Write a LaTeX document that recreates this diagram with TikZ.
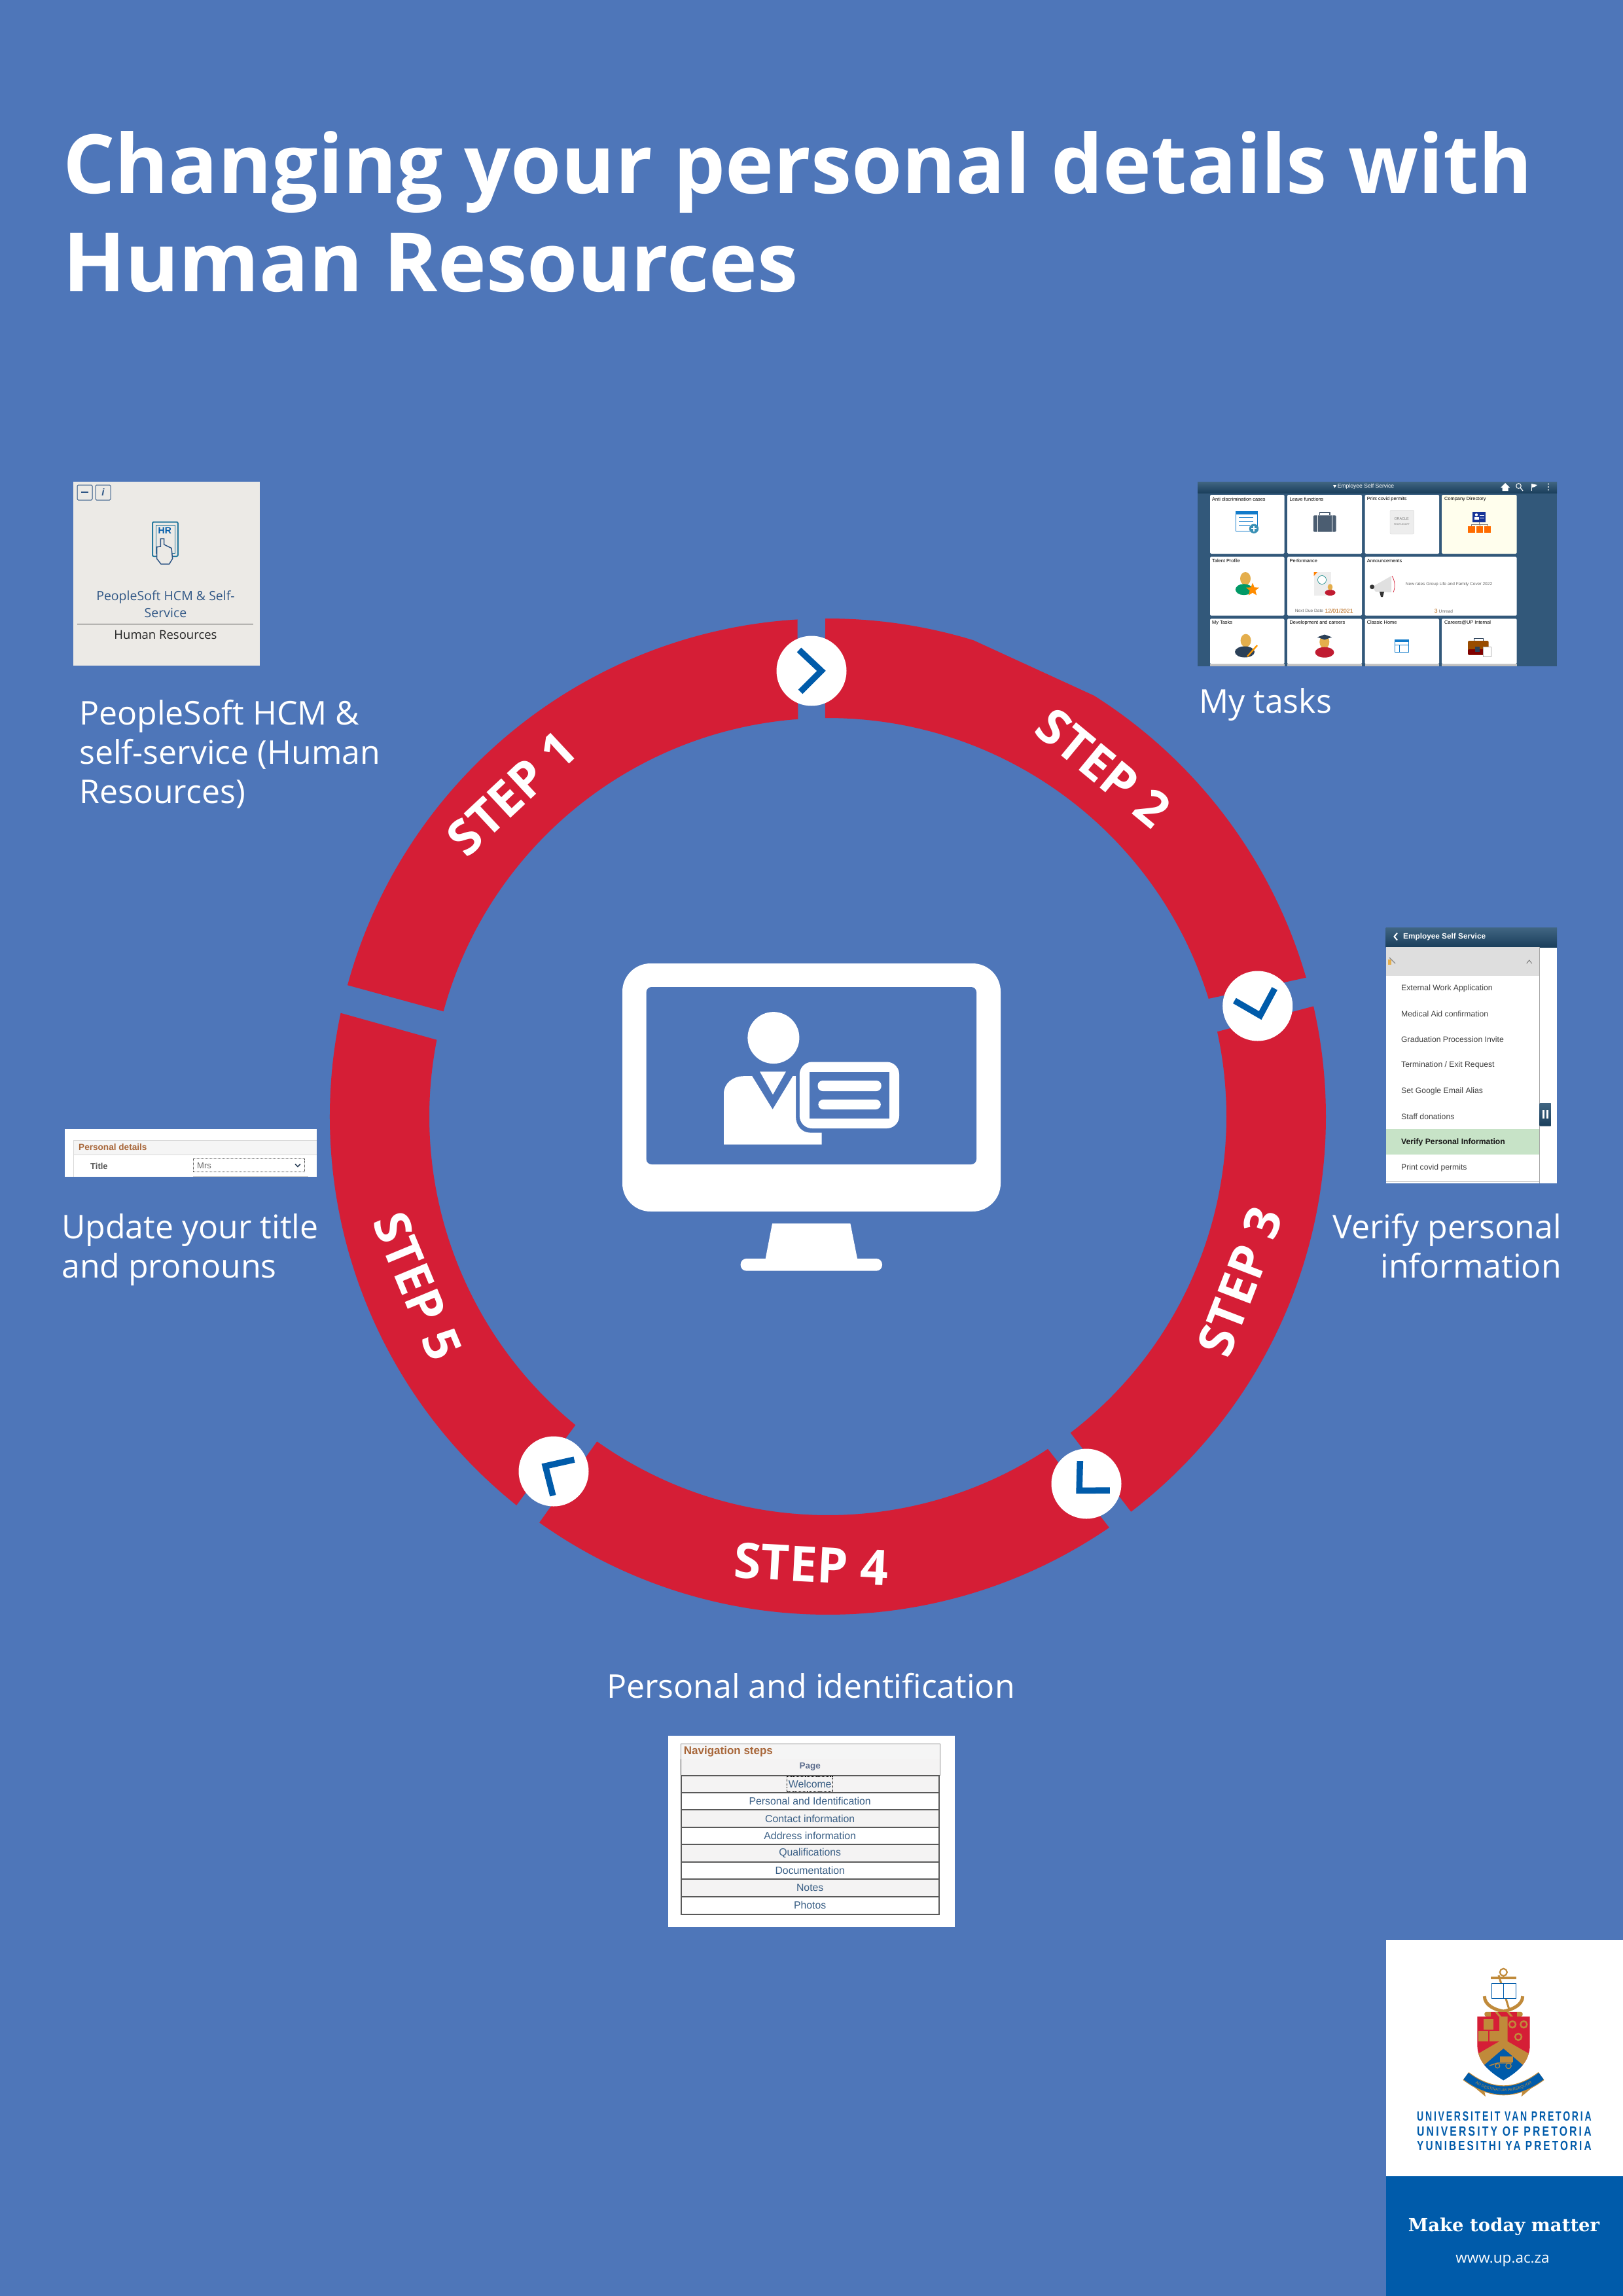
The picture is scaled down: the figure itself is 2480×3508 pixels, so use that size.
\documentclass[tikz,border=0pt]{standalone}
\usepackage{fontspec}
\usepackage{graphicx}
\usepackage{tikz}
\usetikzlibrary{shapes.geometric,decorations.text}
\setmainfont{Open Sans}
\newfontfamily\screenfont{Liberation Sans}
\newfontfamily\crestfont{Liberation Sans}[LetterSpace=20]
\newfontfamily\mottofont{DejaVu Serif}
\newcommand{\setpx}[1]{\fontsize{#1}{#1}\selectfont}
\definecolor{pagebg}{HTML}{4E76B9}
\definecolor{ringred}{HTML}{D51E36}
\definecolor{upblue}{HTML}{005BAA}
\definecolor{upgold}{HTML}{C08A3A}
\definecolor{hrgrey}{HTML}{ECEAE6}
\definecolor{hrblue}{HTML}{2F5685}
\definecolor{barblue}{HTML}{1F4A6C}
\definecolor{deskblue}{HTML}{32587A}
\definecolor{navbrown}{HTML}{A8673A}
\definecolor{navtext}{HTML}{3A5F85}
\definecolor{navgrey}{HTML}{F4F3F3}
\definecolor{navpagec}{HTML}{5E6E8E}
\definecolor{headgold}{HTML}{E4AE4C}
\definecolor{darkslate}{HTML}{2B4058}
\tikzset{
  ringseg/.style={fill=ringred},
  stepdot/.style={circle,fill=white,minimum size=107pt},
  chevron/.style={draw=upblue,line width=9.5pt,miter limit=10},
  steptext/.style={text=white,font=\bfseries\setpx{75}},
  bigtext/.style={text=white,font=\fontsize{50}{60}\selectfont,align=left},
  tile/.style={fill=white,rounded corners=1.5pt},
  tiletitle/.style={anchor=west,text=black,font=\screenfont\setpx{7.4}},
  tilesmall/.style={text=black!60,font=\screenfont\setpx{6.6}},
  menuitem/.style={anchor=west,text=black!75,font=\screenfont\setpx{12.2}},
  navrow/.style={draw=black!65,line width=2pt},
  navitem/.style={text=navtext,font=\screenfont\setpx{15.8}},
  crestline/.style={text=upblue,font=\crestfont\bfseries\setpx{20}},
  whiteicon/.style={fill=white},
  topbar/.style={top color=barblue!85!white,bottom color=barblue!85!black}
}
\begin{document}
\begin{tikzpicture}[x=1pt,y=1pt]
\tikzstyle{every node}+=[inner sep=0pt]
\useasboundingbox (0,0) rectangle (2480,-3508);
\fill [pagebg] (0,0) rectangle (2480,-3508);

\node [anchor=north west,text=white,align=left,font=\bfseries\fontsize{125}{150}\selectfont] (title) at (96,-200) {Changing your personal details with\\Human Resources};

\begin{scope}[shift={(1265,-1706)}]
\fill [ringseg] (93.5:761) arc (93.5:164.7:761) -- (164.7:609) arc (164.7:94.3:609) -- cycle;
\fill [ringseg] (90.3:761) arc (90.3:73:761) -- (57.7:761) arc (57.7:16.2:761) -- (17.2:609) arc (17.2:90.4:609) -- cycle;
\fill [ringseg] (12.8:761) arc (12.8:-52.5:761) -- (-52.5:609) arc (-52.5:12.3:609) -- cycle;
\fill [ringseg] (-55.6:761) arc (-55.6:-125.4:761) -- (-125.4:609) arc (-125.4:-56.5:609) -- cycle;
\fill [ringseg] (231.3:761) arc (231.3:168:761) -- (168.9:609) arc (168.9:230.7:609) -- cycle;
\end{scope}

\node [stepdot] (dot1) at (1240,-1025) {};
\node [stepdot] (dot2) at (1921.7,-1537) {};
\node [stepdot] (dot3) at (1660,-2267) {};
\node [stepdot] (dot4) at (846,-2248) {};
\draw [chevron,shift={(dot1.center)},rotate=0] (-19,32) -- (15,0) -- (-17,-32);
\draw [chevron,shift={(dot2.center)},rotate=-75] (-19,32) -- (15,0) -- (-17,-32);
\draw [chevron,shift={(dot3.center)},rotate=-136.5] (-19,32) -- (15,0) -- (-17,-32);
\draw [chevron,shift={(dot4.center)},rotate=147.6] (-19,32) -- (15,0) -- (-17,-32);

\node [steptext,rotate=43] (step1) at (782,-1212) {STEP 1};
\node [steptext,rotate=-39.5] (step2) at (1686,-1173) {STEP 2};
\node [steptext,rotate=69] (step3) at (1895,-1958) {STEP 3};
\node [steptext,rotate=-3] (step4) at (1240,-2390) {STEP 4};
\node [steptext,rotate=-67.5] (step5) at (638,-1965) {STEP 5};

\fill [whiteicon,rounded corners=43pt] (951,-1472) rectangle (1529,-1851);
\fill [pagebg,rounded corners=8pt] (987.6,-1508) rectangle (1492,-1779);
\fill [whiteicon] (1180,-1869.4) -- (1299.4,-1869.4) -- (1310,-1923) -- (1169.7,-1923) -- cycle;
\fill [whiteicon,rounded corners=9pt] (1131.6,-1923) rectangle (1348,-1941.7);
\fill [whiteicon] (1181.9,-1585.6) circle (39.5);
\fill [whiteicon] (1161,-1637.3) -- (1201,-1637.3) -- (1181,-1672.4) -- cycle;
\fill [whiteicon] (1106,-1748.5) -- (1106,-1671) .. controls (1106,-1655) and (1120,-1644.2) .. (1136.3,-1644.2) -- (1149.3,-1644.2) -- (1180.6,-1695) -- (1211.4,-1644.2) -- (1216,-1644.2) -- (1216,-1705.5) .. controls (1216,-1720) and (1225,-1730.6) .. (1238,-1730.6) -- (1255.6,-1730.6) -- (1255.6,-1748.5) -- cycle;
\fill [whiteicon,rounded corners=19pt] (1221.8,-1622.5) rectangle (1374,-1724);
\fill [pagebg] (1237,-1638) rectangle (1358.8,-1709);
\fill [whiteicon,rounded corners=7.5pt] (1249.5,-1651) rectangle (1346.7,-1667);
\fill [whiteicon,rounded corners=7.5pt] (1250.4,-1680) rectangle (1345.8,-1695);

\fill [hrgrey] (112,-736) rectangle (397,-1017);
\draw [hrblue,line width=1pt,rounded corners=1.5pt] (118,-741) rectangle (141,-764);
\draw [hrblue,line width=1pt,rounded corners=1.5pt] (146,-741) rectangle (169,-764);
\draw [hrblue,line width=1.6pt] (124,-752) -- (135,-752);
\node [text=hrblue,font=\screenfont\itshape\bfseries\setpx{15}] (hrinfo) at (157.5,-752.5) {i};
\draw [hrblue!80!cyan,line width=2pt,rounded corners=2pt,fill=hrgrey] (233,-797.5) rectangle (271.8,-850);
\draw [hrblue!80!cyan,line width=1pt] (238,-802) rectangle (267,-845);
\node [text=upblue,font=\screenfont\bfseries\setpx{14}] (hrtag) at (251.8,-811) {HR};
\draw [hrblue,line width=1.5pt,fill=hrgrey] (245.4,-823) -- (250.7,-823) -- (250.7,-832) -- (262,-837.5) -- (263.6,-853.6) -- (258.6,-861.8) -- (246,-861.8) -- (239.6,-853.6) -- (239.6,-835.7) -- (245.4,-835) -- cycle;
\node [text=hrblue,align=center,font=\fontsize{19.5}{26}\selectfont] (hrname) at (253,-923) {PeopleSoft HCM \& Self-\\Service};
\draw [black!70,line width=0.8pt] (118,-953) -- (387,-953);
\node [text=black!85,font=\setpx{18.5}] (hrsub) at (253,-970) {Human Resources};
\node [bigtext,anchor=north west] (hrlabel) at (121,-1069) {PeopleSoft HCM \&\\self-service (Human\\Resources)};

\fill [deskblue] (1830.4,-736) rectangle (2379,-1018);
\shade [topbar] (1830.4,-736) rectangle (2379,-753.3);
\fill [tile] (1849,-756) rectangle (1962.5,-846);
\fill [tile] (1967,-756) rectangle (2081,-846);
\fill [tile] (2085.5,-756) rectangle (2199,-846);
\fill [tile,fill=yellow!7] (2203,-756) rectangle (2317.6,-846);
\fill [tile] (1849,-850.7) rectangle (1962.5,-940.7);
\fill [tile] (1967,-850.7) rectangle (2081,-940.7);
\fill [tile] (2085.5,-850.7) rectangle (2317.6,-940.7);
\fill [black!25] (1849,-1014) rectangle (1962.5,-1018);
\fill [black!25] (1967,-1014) rectangle (2081,-1018);
\fill [black!25] (2085.5,-1014) rectangle (2199,-1018);
\fill [black!25] (2203,-1014) rectangle (2317.6,-1018);
\fill [tile] (1849,-945.3) rectangle (1962.5,-1014.3);
\fill [tile] (1967,-945.3) rectangle (2081,-1014.3);
\fill [tile] (2085.5,-945.3) rectangle (2199,-1014.3);
\fill [tile] (2203,-945.3) rectangle (2317.6,-1014.3);
\node [text=white,font=\screenfont\setpx{8.6}] (deskhead) at (2087,-743) {Employee Self Service};
\fill [white] (2037,-741) -- (2042,-741) -- (2039.5,-745.5) -- cycle;
\fill [white] (2293,-745) -- (2300,-738) -- (2307,-745) -- (2304.5,-745) -- (2304.5,-750) -- (2295.5,-750) -- (2295.5,-745) -- cycle;
\draw [white,line width=1pt] (2320.5,-742.5) circle (3.8);
\draw [white,line width=1.2pt] (2323,-745) -- (2327,-750);
\draw [white,line width=1pt] (2340,-739) -- (2340,-750);
\fill [white] (2340,-739) -- (2349,-741) -- (2345,-744) -- (2340,-745) -- cycle;
\fill [white] (2366,-739.5) circle (1.1);
\fill [white] (2366,-744) circle (1.1);
\fill [white] (2366,-748.5) circle (1.1);
\node [tiletitle] (t1) at (1852,-762.7) {Anti discrimination cases};
\node [tiletitle] (t2) at (1970.4,-762.7) {Leave functions};
\node [tiletitle] (t3) at (2088.6,-762.7) {Print covid permits};
\node [tiletitle] (t4) at (2207,-762.7) {Company Directory};
\node [tiletitle] (t5) at (1852,-856.7) {Talent Profile};
\node [tiletitle] (t6) at (1970.4,-856.7) {Performance};
\node [tiletitle] (t7) at (2088.6,-856.7) {Announcements};
\node [tiletitle] (t8) at (1852,-951.3) {My Tasks};
\node [tiletitle] (t9) at (1970.4,-951.3) {Development and careers};
\node [tiletitle] (t10) at (2088.6,-951.3) {Classic Home};
\node [tiletitle] (t11) at (2207,-951.3) {Careers@UP Internal};
\draw [cyan!60!blue,fill=white,line width=0.7pt] (1888,-781.3) rectangle (1921.8,-811);
\fill [cyan!60!blue] (1888,-781.3) rectangle (1921.8,-785.5);
\draw [cyan!60!blue,line width=0.9pt] (1893,-790) -- (1915,-790);
\draw [cyan!60!blue,line width=0.9pt] (1893,-796) -- (1915,-796);
\draw [cyan!60!blue,line width=0.9pt] (1893,-802) -- (1910,-802);
\fill [cyan!70!black] (1916,-807.7) circle (7.2);
\draw [white,line width=1.2pt] (1912,-807.7) -- (1920,-807.7);
\draw [white,line width=1.2pt] (1916,-803.7) -- (1916,-811.7);
\fill [darkslate!85,rounded corners=2pt] (2006.8,-787.3) rectangle (2041.6,-812.7);
\draw [darkslate!85,line width=1.4pt] (2016.5,-787.3) -- (2016.5,-783) -- (2032,-783) -- (2032,-787.3);
\draw [white,line width=0.9pt] (2013.5,-787.3) -- (2013.5,-812.7);
\draw [white,line width=0.9pt] (2035,-787.3) -- (2035,-812.7);
\draw [black!15,fill=black!7,rounded corners=2pt] (2124,-779.3) rectangle (2160.6,-816);
\node [text=black!55,font=\screenfont\setpx{5.4}] (t3a) at (2141.6,-793) {ORACLE};
\node [text=black!55,font=\screenfont\setpx{3.6}] (t3b) at (2142,-801.7) {PEOPLESOFT};
\fill [barblue!70!blue] (2250.4,-781.7) rectangle (2270,-797.7);
\fill [white] (2256,-786.5) circle (2.2);
\fill [white] (2252.5,-793.5) rectangle (2259.5,-790);
\draw [white,line width=0.5pt] (2261,-787) -- (2268,-787);
\draw [white,line width=0.5pt] (2261,-791) -- (2268,-791);
\draw [black!50,line width=0.4pt] (2260,-797.7) -- (2260,-801) (2248.4,-804) -- (2248.4,-801) -- (2273,-801) -- (2273,-804) (2261,-801) -- (2261,-804);
\fill [orange!85!red] (2242.5,-804) rectangle (2254.3,-814);
\fill [orange!85!red] (2255.5,-804) rectangle (2266,-814);
\fill [orange!85!red] (2267.7,-804) rectangle (2278.4,-814);
\fill [headgold] (1903,-884) ellipse (8 and 10);
\fill [teal!80!green] (1900.8,-900.7) ellipse (13 and 8.5);
\node [star,star points=5,star point ratio=2.3,fill=orange!90!yellow,minimum size=21pt] (t5star) at (1914,-901) {};
\fill [black!7] (2007.6,-874) rectangle (2034,-910);
\fill [orange] (2007.6,-874) -- (2013,-874) -- (2007.6,-880) -- cycle;
\draw [teal,fill=white,line width=0.6pt] (2020,-886) circle (6.5);
\fill [ringred!90!black] (2032.5,-905.5) ellipse (8 and 4.5);
\fill [headgold] (2032.5,-897) ellipse (3.8 and 4.8);
\node [tilesmall] (t6a) at (2000.5,-933.3) {Next Due Date};
\node [text=orange!70!black,font=\screenfont\setpx{8.6}] (t6b) at (2046,-933.3) {12/01/2021};
\fill [black!12] (2096.6,-896.7) -- (2126,-880) -- (2126,-905) -- (2102,-904) -- cycle;
\fill [black!80] (2096.6,-896.7) circle (3.5);
\fill [black!80] (2108,-904) -- (2115,-904) -- (2113,-912) -- (2110,-912) -- cycle;
\draw [ringred,line width=0.7pt] (2127,-880) .. controls (2132,-888) and (2132,-898) .. (2129,-905);
\node [tilesmall] (t7a) at (2214,-892.7) {New rates Group Life and Family Cover 2022};
\node [tilesmall] (t7b) at (2206,-933.3) {\textcolor{orange!70!black}{\setpx{8.6}3} Unread};
\fill [headgold] (1903.6,-978.7) ellipse (8 and 10);
\fill [darkslate] (1902,-996) ellipse (15 and 8.5);
\draw [orange!80!yellow,line width=2.4pt] (1906,-1003) -- (1921,-986);
\fill [headgold] (2023.8,-980.7) ellipse (7.5 and 10);
\fill [ringred!90!black] (2024,-996.7) ellipse (14.5 and 8);
\fill [darkslate] (2013,-973.5) -- (2024,-969.5) -- (2035,-973.5) -- (2024,-977.5) -- cycle;
\draw [cyan!60!blue,fill=white,line width=0.6pt] (2131,-977.3) rectangle (2152.7,-996);
\fill [cyan!60!blue] (2131,-977.3) rectangle (2152.7,-981);
\draw [cyan!60!blue,line width=0.5pt] (2131,-985) -- (2152.7,-985);
\draw [cyan!60!blue,line width=0.5pt] (2138,-985) -- (2138,-996);
\fill [orange!60!black,rounded corners=1.5pt] (2243,-979) rectangle (2274.5,-1000.7);
\fill [red!50!black,rounded corners=1.5pt] (2243,-992) rectangle (2274.5,-1000.7);
\draw [darkslate,line width=1pt] (2252,-979) -- (2252,-975) -- (2266,-975) -- (2266,-979);
\fill [darkslate] (2254,-988) rectangle (2261,-996);
\draw [black!30,fill=white,line width=0.4pt] (2265.8,-988.3) rectangle (2278.4,-1003.3);
\node [bigtext,anchor=north west] (desklabel) at (1832,-1051) {My tasks};

\fill [white] (2117.7,-1417) rectangle (2379,-1808);
\shade [topbar] (2117.7,-1417) rectangle (2379,-1447);
\fill [black!13] (2117.7,-1447) rectangle (2352,-1491);
\fill [green!50!black!22] (2117.7,-1725) rectangle (2352,-1764);
\draw [black!35,line width=0.8pt] (2352,-1447) -- (2352,-1808);
\draw [black!25,line width=1pt] (2117.7,-1805) -- (2352,-1805);
\draw [white,line width=2pt] (2135,-1425.5) -- (2130.5,-1431) -- (2135,-1436.5);
\node [anchor=west,text=white,font=\screenfont\bfseries\setpx{11.8}] (menuhead) at (2144,-1431) {Employee Self Service};
\fill [headgold] (2121,-1474) rectangle (2126,-1466);
\draw [black!45,line width=1.2pt] (2123,-1463) -- (2132,-1472);
\draw [black!55,line width=0.9pt] (2332.7,-1472) -- (2336.7,-1467) -- (2340.7,-1472);
\node [menuitem] (m1) at (2141,-1510) {External Work Application};
\node [menuitem] (m2) at (2141,-1549) {Medical Aid confirmation};
\node [menuitem] (m3) at (2141,-1588) {Graduation Procession Invite};
\node [menuitem] (m4) at (2141,-1627) {Termination / Exit Request};
\node [menuitem] (m5) at (2141,-1667) {Set Google Email Alias};
\node [menuitem] (m6) at (2141,-1706) {Staff donations};
\node [menuitem,font=\screenfont\bfseries\setpx{12.2},text=black!90] (m7) at (2141,-1745) {Verify Personal Information};
\node [menuitem] (m8) at (2141,-1784) {Print covid permits};
\shade [topbar,rounded corners=1.5pt] (2352,-1685) rectangle (2370.7,-1720.7);
\fill [white] (2357,-1696) rectangle (2360,-1709);
\fill [white] (2363,-1696) rectangle (2366,-1709);
\node [bigtext,anchor=north east,align=right] (menulabel) at (2386,-1854) {Verify personal\\information};

\fill [white] (99,-1725) rectangle (484,-1798);
\fill [black!4] (112.7,-1742.7) rectangle (484,-1764.3);
\draw [black!15,line width=0.8pt] (484,-1742.7) -- (112.7,-1742.7) -- (112.7,-1798);
\draw [black!15,line width=0.8pt] (112.7,-1764.3) -- (484,-1764.3);
\node [anchor=west,text=navbrown,font=\screenfont\bfseries\setpx{13.6}] (pdhead) at (120,-1753) {Personal details};
\node [anchor=west,text=black!65,font=\screenfont\bfseries\setpx{13}] (pdtitle) at (138,-1782) {Title};
\draw [black!75,densely dotted,line width=1pt,fill=white] (295,-1770.7) rectangle (465.7,-1790.7);
\node [anchor=west,text=black!60,font=\screenfont\setpx{13}] (pdvalue) at (301,-1780.7) {Mrs};
\draw [darkslate,line width=1.6pt] (451,-1778.5) -- (455,-1782.5) -- (459,-1778.5);
\draw [black!20,line width=0.8pt] (295,-1797) -- (471,-1797);
\node [bigtext,anchor=north west] (pdlabel) at (94,-1854) {Update your title\\and pronouns};

\node [bigtext,anchor=base] (navlabel) at (1239,-2594) {Personal and identification};
\fill [white] (1021,-2652) rectangle (1459,-2944);
\fill [black!4] (1040,-2664) rectangle (1436,-2688);
\fill [navgrey] (1040,-2688) rectangle (1436,-2712.7);
\draw [black!45,line width=0.9pt] (1040,-2688) -- (1040,-2664) -- (1436,-2664) -- (1436,-2712.7);
\draw [black!80,line width=0.9pt] (1040,-2688) -- (1040,-2712.7);
\draw [navrow,fill=navgrey] (1040.7,-2712.7) rectangle (1435.3,-2739);
\draw [navrow,fill=white] (1040.7,-2739) rectangle (1435.3,-2765.3);
\draw [navrow,fill=navgrey] (1040.7,-2765.3) rectangle (1435.3,-2792);
\draw [navrow,fill=white] (1040.7,-2792) rectangle (1435.3,-2818.3);
\draw [navrow,fill=navgrey] (1040.7,-2818.3) rectangle (1435.3,-2844.7);
\draw [navrow,fill=white] (1040.7,-2844.7) rectangle (1435.3,-2871);
\draw [navrow,fill=navgrey] (1040.7,-2871) rectangle (1435.3,-2897.7);
\draw [navrow,fill=white] (1040.7,-2897.7) rectangle (1435.3,-2924.7);
\node [anchor=west,text=navbrown,font=\screenfont\bfseries\setpx{17}] (navhead) at (1044.7,-2676) {Navigation steps};
\node [text=navpagec,font=\screenfont\bfseries\setpx{13.5}] (navpage) at (1237.7,-2699.5) {Page};
\node [navitem] (n1) at (1237.7,-2725.5) {Welcome};
\draw [black,densely dotted,line width=0.9pt] (1202.7,-2714.3) rectangle (1272,-2737.7);
\node [navitem] (n2) at (1237.7,-2752) {Personal and Identification};
\node [navitem] (n3) at (1237.7,-2778.5) {Contact information};
\node [navitem] (n4) at (1237.7,-2805) {Address information};
\node [navitem] (n5) at (1237.7,-2831.5) {Qualifications};
\node [navitem] (n6) at (1237.7,-2858) {Documentation};
\node [navitem] (n7) at (1237.7,-2884.5) {Notes};
\node [navitem] (n8) at (1237.7,-2911) {Photos};

\fill [white] (2117.7,-2963.5) rectangle (2480,-3325.4);
\fill [upblue] (2117.7,-3325.4) rectangle (2480,-3508);
\draw [upgold,line width=2.2pt] (2297.3,-3013.3) circle (5.5);
\draw [upgold,line width=3.5pt] (2278.3,-3022) -- (2316.7,-3022);
\draw [upgold,line width=5pt] (2268.3,-3050) .. controls (2268.3,-3064) and (2285,-3071) .. (2297.3,-3073) .. controls (2309,-3071) and (2326.7,-3064) .. (2326.7,-3050);
\draw [upgold,line width=3pt] (2290,-3018) -- (2306,-3070);
\draw [upblue,line width=0.6pt,fill=white] (2279,-3030) rectangle (2297.3,-3053);
\draw [upblue,line width=0.6pt,fill=white] (2297.3,-3030) rectangle (2316,-3053);
\fill [upgold,rounded corners=3pt] (2268.3,-3073.8) rectangle (2326.7,-3081);
\fill [ringred] (2278,-3073.8) rectangle (2318,-3081);
\fill [upgold] (2284,-3073.8) -- (2288,-3073.8) -- (2294,-3081) -- (2290,-3081) -- cycle;
\fill [upgold] (2302,-3073.8) -- (2306,-3073.8) -- (2312,-3081) -- (2308,-3081) -- cycle;
\begin{scope}
\clip (2257.3,-3081) -- (2337.7,-3081) -- (2337.7,-3124) .. controls (2337.7,-3150) and (2320,-3165) .. (2297.3,-3178.5) .. controls (2275,-3165) and (2257.3,-3150) .. (2257.3,-3124) -- cycle;
\fill [ringred] (2257,-3081) rectangle (2338,-3160);
\fill [upblue] (2297.3,-3129.7) -- (2340,-3165) -- (2340,-3180) -- (2255,-3180) -- (2255,-3165) -- cycle;
\fill [upgold] (2291,-3081) -- (2303.7,-3081) -- (2303.7,-3119) -- (2342,-3141) -- (2333,-3160) -- (2297.3,-3129.7) -- (2262,-3160) -- (2253,-3141) -- (2291,-3119) -- cycle;
\end{scope}
\draw [upgold,line width=2.4pt] (2311,-3093) circle (5);
\draw [upgold,line width=2.4pt] (2328.3,-3093) circle (5);
\draw [upgold,line width=2.4pt] (2320,-3112) circle (5);
\fill [upgold] (2267,-3085) rectangle (2282,-3101);
\fill [upgold] (2259,-3103) rectangle (2274,-3119);
\fill [upgold] (2275.5,-3103) rectangle (2290.5,-3119);
\fill [upgold] (2291.7,-3141.5) rectangle (2312.3,-3151);
\draw [upgold,line width=1.4pt] (2276,-3156) -- (2288,-3152) -- (2310,-3152);
\draw [upgold,line width=1.2pt] (2288.3,-3156.4) circle (3.4);
\draw [upgold,line width=1.2pt] (2305,-3156.4) circle (4.2);
\fill [upgold] (2250,-3186.6) -- (2270,-3203.4) -- (2266.7,-3189) -- cycle;
\fill [upgold] (2344.6,-3186.6) -- (2324.6,-3203.4) -- (2328,-3189) -- cycle;
\draw [upgold,line width=15pt] (2240,-3172) .. controls (2278,-3201) and (2317,-3201) .. (2355,-3172);
\draw [upblue,line width=12.5pt] (2240,-3172) .. controls (2278,-3201) and (2317,-3201) .. (2355,-3172);
\path [decorate,decoration={text along path,text align=center,raise=-2pt,text={|\screenfont\color{upgold}\setpx{6}|AD DESTINATUM PERSEQUOR}}] (2240,-3172) .. controls (2278,-3201) and (2317,-3201) .. (2355,-3172);
\node [crestline,anchor=base] (crest1) at (2298.4,-3240) {\resizebox{266.5pt}{14.2pt}{UNIVERSITEIT VAN PRETORIA}};
\node [crestline,anchor=base] (crest2) at (2298.4,-3263) {\resizebox{266.5pt}{14.2pt}{UNIVERSITY OF PRETORIA}};
\node [crestline,anchor=base] (crest3) at (2298.4,-3285) {\resizebox{266.5pt}{14.2pt}{YUNIBESITHI YA PRETORIA}};
\node [anchor=base,text=white,font=\mottofont\bfseries\setpx{27.5}] (motto) at (2298,-3409) {Make today matter};
\node [anchor=base,text=white,font=\setpx{22.5}] (website) at (2296,-3457) {www.up.ac.za};
\end{tikzpicture}
\end{document}
